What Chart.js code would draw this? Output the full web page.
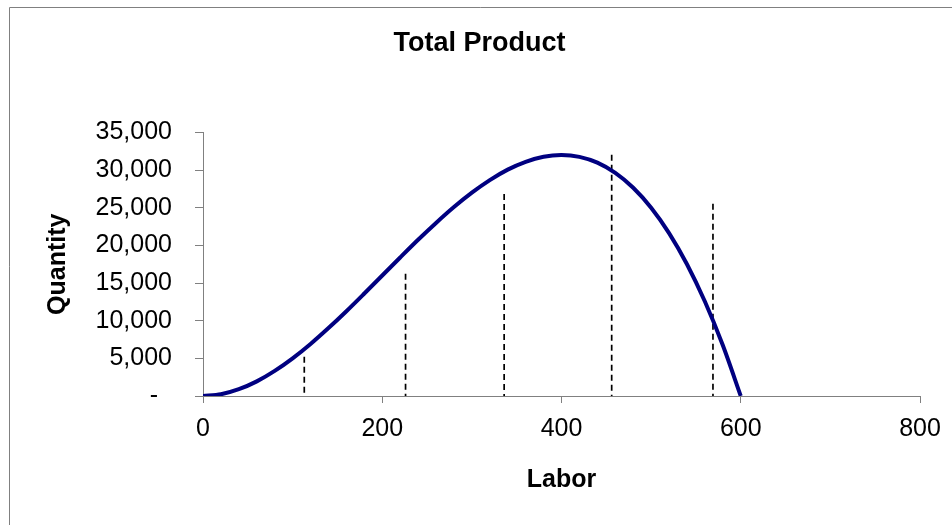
<!DOCTYPE html>
<html>
<head>
<meta charset="utf-8">
<style>
  html, body { margin: 0; padding: 0; background: #ffffff; }
  #wrap { width: 952px; height: 525px; position: relative; }
</style>
<script src="https://cdn.jsdelivr.net/npm/chart.js@4.4.1/dist/chart.umd.min.js"></script>
</head>
<body>
<div id="wrap"><canvas id="c" width="952" height="525"></canvas></div>
<script>
// ---- data ----
const chartTitle = 'Total Product';
const xTitle = 'Labor';
const yTitle = 'Quantity';

const labor = [0, 20, 40, 60, 80, 100, 120, 140, 160, 180, 200, 220, 240, 260, 280, 300,
               320, 340, 360, 380, 400, 420, 440, 460, 480, 500, 520, 540, 560, 580, 600];
const totalProduct = [0, 230, 900, 1940, 3330, 5000, 6910, 9020, 11260, 13610, 16000, 18390,
                      20740, 22980, 25090, 27000, 28670, 30060, 31100, 31770, 32000, 31750,
                      30980, 29620, 27650, 25000, 21630, 17500, 12540, 6730, 0];

const dashX = [113, 226, 336, 456, 569];
const dashTop = [5220, 16220, 26810, 32030, 25520];

const xTicks = [0, 200, 400, 600, 800];
const yTicks = [0, 5000, 10000, 15000, 20000, 25000, 30000, 35000];

// ---- build datasets ----
const curvePts = labor.map((l, i) => ({ x: l, y: totalProduct[i] }));
const dashPts = [];
dashX.forEach((x, i) => {
  dashPts.push({ x: x, y: dashTop[i] });
  dashPts.push({ x: x, y: 0 });
  dashPts.push({ x: x, y: null });
});

const FONT = "'Liberation Sans', Arial, Helvetica, sans-serif";

const framePlugin = {
  id: 'frame',
  afterLayout(chart) {
    // centre the title across the whole picture, as in the original
    const t = chart.titleBlock;
    if (t) { t.left = 0; t.right = 959; t.width = 959; }
  },
  beforeDraw(chart) {
    const ctx = chart.ctx;
    ctx.save();
    ctx.fillStyle = '#ffffff';
    ctx.fillRect(0, 0, chart.width, chart.height);
    ctx.strokeStyle = '#808080';
    ctx.lineWidth = 1;
    ctx.beginPath();
    ctx.moveTo(9.5, chart.height);
    ctx.lineTo(9.5, 7.5);
    ctx.lineTo(chart.width, 7.5);
    ctx.stroke();
    ctx.restore();
  }
};

new Chart(document.getElementById('c'), {
  type: 'scatter',
  data: {
    datasets: [
      {
        label: 'Total Product',
        data: curvePts,
        showLine: true,
        borderColor: '#000080',
        backgroundColor: '#000080',
        borderWidth: 4,
        pointRadius: 0,
        tension: 0.3,
        order: 1
      },
      {
        label: 'Markers',
        data: dashPts,
        showLine: true,
        spanGaps: false,
        borderColor: '#000000',
        borderWidth: 1.7,
        borderDash: [6, 4],
        pointRadius: 0,
        order: 2
      }
    ]
  },
  options: {
    responsive: false,
    animation: false,
    devicePixelRatio: 1,
    layout: { padding: { left: 0, right: 32, top: 0, bottom: 0 } },
    plugins: {
      legend: { display: false },
      tooltip: { enabled: false },
      title: {
        display: true,
        text: chartTitle,
        color: '#000000',
        font: { family: FONT, size: 27, weight: 'bold' },
        padding: { top: 27, bottom: 73 }
      }
    },
    scales: {
      x: {
        type: 'linear',
        min: 0,
        max: 800,
        afterBuildTicks(scale) { scale.ticks = xTicks.map(v => ({ value: v })); },
        afterFit(scale) { scale.height = 129; },
        grid: { drawOnChartArea: false, drawTicks: true, tickLength: 7, color: '#808080', lineWidth: 1 },
        border: { display: true, color: '#808080', width: 1 },
        ticks: {
          color: '#000000',
          font: { family: FONT, size: 25 },
          padding: 11,
          maxRotation: 0,
          callback: v => String(v)
        },
        title: {
          display: true,
          text: xTitle,
          color: '#000000',
          font: { family: FONT, size: 25, weight: 'bold' },
          padding: { top: 4, bottom: 30 }
        }
      },
      y: {
        type: 'linear',
        min: 0,
        max: 35000,
        afterBuildTicks(scale) { scale.ticks = yTicks.map(v => ({ value: v })); },
        afterFit(scale) { scale.width = 203; },
        grid: { drawOnChartArea: false, drawTicks: true, tickLength: 8, color: '#808080', lineWidth: 1 },
        border: { display: true, color: '#808080', width: 1 },
        ticks: {
          color: '#000000',
          font: { family: FONT, size: 25 },
          padding: 23,
          callback: v => (v === 0 ? '-  ' : v.toLocaleString('en-US'))
        },
        title: {
          display: true,
          text: yTitle,
          color: '#000000',
          font: { family: FONT, size: 25, weight: 'bold' },
          padding: { top: 43, bottom: 4 }
        }
      }
    }
  },
  plugins: [framePlugin]
});
</script>
</body>
</html>
